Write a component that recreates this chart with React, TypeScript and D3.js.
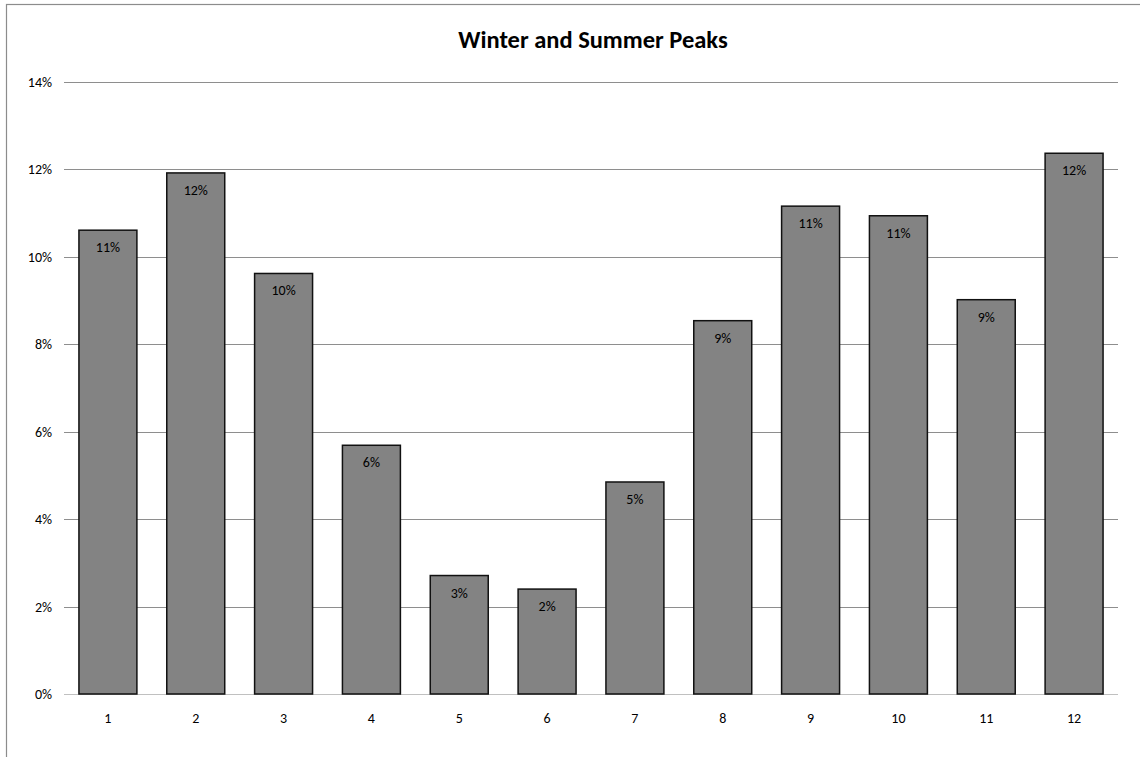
import React from "react";
import * as d3 from "d3";

const months = ["1", "2", "3", "4", "5", "6", "7", "8", "9", "10", "11", "12"];
const shares = [10.61, 11.92, 9.62, 5.69, 2.71, 2.4, 4.85, 8.54, 11.16, 10.94, 9.02, 12.37];
const yTicks = [0, 2, 4, 6, 8, 10, 12, 14];
const title = "Winter and Summer Peaks";

const W = 1140;
const H = 757;
const plot = { left: 64, right: 1118, top: 82, bottom: 694 };
const font = "Carlito, Calibri, Lato, 'Open Sans', sans-serif";

export default function App() {
  const x = d3
    .scaleBand<string>()
    .domain(months)
    .range([plot.left, plot.right])
    .paddingInner(0.34)
    .paddingOuter(0.17);
  const y = d3.scaleLinear().domain([0, 14]).range([plot.bottom, plot.top]);

  return (
    <svg
      width={W}
      height={H}
      style={{ position: "absolute", left: 0, top: 0, background: "#fff" }}
      fontFamily={font}
    >
      <rect x={6.5} y={4.5} width={W + 20} height={H + 20} fill="#fff" stroke="#8c8c8c" strokeWidth={1.2} />
      <text x={593} y={48} textAnchor="middle" fontSize={24.5} fontWeight="bold" fill="#000">
        {title}
      </text>
      {yTicks.map((t) => (
        <g key={t}>
          <line
            x1={plot.left}
            x2={plot.right}
            y1={Math.round(y(t)) + 0.5}
            y2={Math.round(y(t)) + 0.5}
            stroke={t === 0 ? "#c0c0c0" : "#8e8e8e"}
            strokeWidth={1}
          />
          <text x={52} y={y(t) + 5} textAnchor="end" fontSize={14} fill="#000">
            {t}%
          </text>
        </g>
      ))}
      {shares.map((v, i) => {
        const bx = x(months[i])!;
        const bw = x.bandwidth();
        const top = y(v);
        return (
          <g key={months[i]}>
            <rect
              x={bx}
              y={top}
              width={bw}
              height={y(0) - top}
              fill="#838383"
              stroke="#111"
              strokeWidth={1.5}
            />
            <text x={bx + bw / 2} y={top + 22} textAnchor="middle" fontSize={14} fill="#000">
              {Math.round(v)}%
            </text>
          </g>
        );
      })}
      {months.map((m) => (
        <text key={m} x={x(m)! + x.bandwidth() / 2} y={723} textAnchor="middle" fontSize={14} fill="#000">
          {m}
        </text>
      ))}
    </svg>
  );
}
